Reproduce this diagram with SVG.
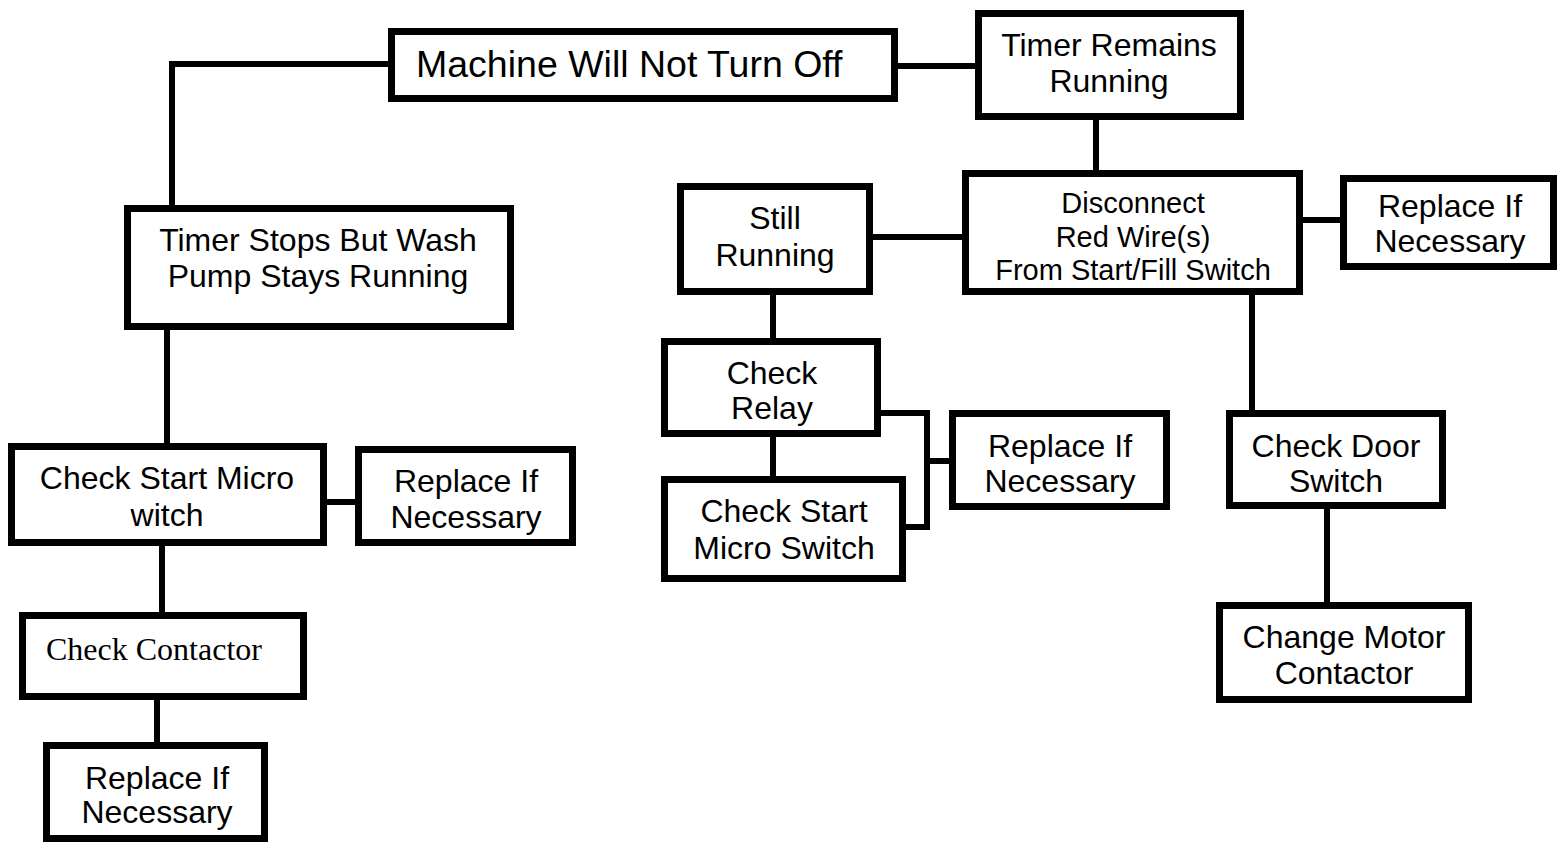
<svg xmlns="http://www.w3.org/2000/svg" width="1558" height="842" viewBox="0 0 1558 842">
<style>
.box{fill:#fff;stroke:#000;stroke-width:7}
.t{font-family:"Liberation Sans",Arial,sans-serif;font-size:32px;fill:#000;text-anchor:middle}
.s{font-family:"Liberation Serif","Times New Roman",serif;font-size:32px;fill:#000}
.c{fill:none;stroke:#000;stroke-width:6}
</style>
<rect width="1558" height="842" fill="#fff"/>
<g id="connectors">
<polyline class="c" points="388,64 172,64 172,205"/>
<line class="c" x1="898" y1="66" x2="975" y2="66"/>
<line class="c" x1="1096" y1="120" x2="1096" y2="170"/>
<line class="c" x1="873" y1="237" x2="962" y2="237"/>
<line class="c" x1="1303" y1="220" x2="1340" y2="220"/>
<line class="c" x1="1252" y1="295" x2="1252" y2="410"/>
<line class="c" x1="773" y1="295" x2="773" y2="338"/>
<line class="c" x1="773" y1="437" x2="773" y2="476"/>
<polyline class="c" points="881,413 927,413 927,527 906,527"/>
<line class="c" x1="927" y1="461" x2="949" y2="461"/>
<line class="c" x1="167" y1="330" x2="167" y2="443"/>
<line class="c" x1="327" y1="502" x2="355" y2="502"/>
<line class="c" x1="162" y1="546" x2="162" y2="612"/>
<line class="c" x1="157" y1="700" x2="157" y2="742"/>
<line class="c" x1="1327" y1="509" x2="1327" y2="602"/>
</g>
<g id="machine">
<rect class="box" x="391.5" y="31.5" width="503" height="67"/>
<text class="t" x="416" y="77" style="text-anchor:start;font-size:37.5px">Machine Will Not Turn Off</text>
</g>
<g id="timer-remains">
<rect class="box" x="978.5" y="13.5" width="262" height="103"/>
<text class="t" x="1109" y="56">Timer Remains</text>
<text class="t" x="1109" y="92">Running</text>
</g>
<g id="timer-stops">
<rect class="box" x="127.5" y="208.5" width="383" height="118"/>
<text class="t" x="318" y="251">Timer Stops But Wash</text>
<text class="t" x="318" y="287">Pump Stays Running</text>
</g>
<g id="still-running">
<rect class="box" x="680.5" y="186.5" width="189" height="105"/>
<text class="t" x="775" y="229">Still</text>
<text class="t" x="775" y="266">Running</text>
</g>
<g id="disconnect">
<rect class="box" x="965.5" y="173.5" width="334" height="118"/>
<text class="t" x="1133" y="213" style="font-size:29px">Disconnect</text>
<text class="t" x="1133" y="247" style="font-size:29px">Red Wire(s)</text>
<text class="t" x="1133" y="280" style="font-size:29px">From Start/Fill Switch</text>
</g>
<g id="replace-top">
<rect class="box" x="1343.5" y="178.5" width="210" height="88"/>
<text class="t" x="1450" y="217">Replace If</text>
<text class="t" x="1450" y="252">Necessary</text>
</g>
<g id="check-relay">
<rect class="box" x="664.5" y="341.5" width="213" height="92"/>
<text class="t" x="772" y="384">Check</text>
<text class="t" x="772" y="419">Relay</text>
</g>
<g id="check-start-micro-switch">
<rect class="box" x="664.5" y="479.5" width="238" height="99"/>
<text class="t" x="784" y="522">Check Start</text>
<text class="t" x="784" y="559">Micro Switch</text>
</g>
<g id="replace-mid">
<rect class="box" x="952.5" y="413.5" width="214" height="93"/>
<text class="t" x="1060" y="457">Replace If</text>
<text class="t" x="1060" y="492">Necessary</text>
</g>
<g id="check-door">
<rect class="box" x="1229.5" y="413.5" width="213" height="92"/>
<text class="t" x="1336" y="457">Check Door</text>
<text class="t" x="1336" y="492">Switch</text>
</g>
<g id="change-motor">
<rect class="box" x="1219.5" y="605.5" width="249" height="94"/>
<text class="t" x="1344" y="648">Change Motor</text>
<text class="t" x="1344" y="684">Contactor</text>
</g>
<g id="check-start-micro-witch">
<rect class="box" x="11.5" y="446.5" width="312" height="96"/>
<text class="t" x="167" y="489">Check Start Micro</text>
<text class="t" x="167" y="526">witch</text>
</g>
<g id="replace-left">
<rect class="box" x="358.5" y="449.5" width="214" height="93"/>
<text class="t" x="466" y="492">Replace If</text>
<text class="t" x="466" y="528">Necessary</text>
</g>
<g id="check-contactor">
<rect class="box" x="22.5" y="615.5" width="281" height="81"/>
<text class="s" x="46" y="660">Check Contactor</text>
</g>
<g id="replace-bottom">
<rect class="box" x="46.5" y="745.5" width="218" height="93"/>
<text class="t" x="157" y="789">Replace If</text>
<text class="t" x="157" y="823">Necessary</text>
</g>
</svg>
